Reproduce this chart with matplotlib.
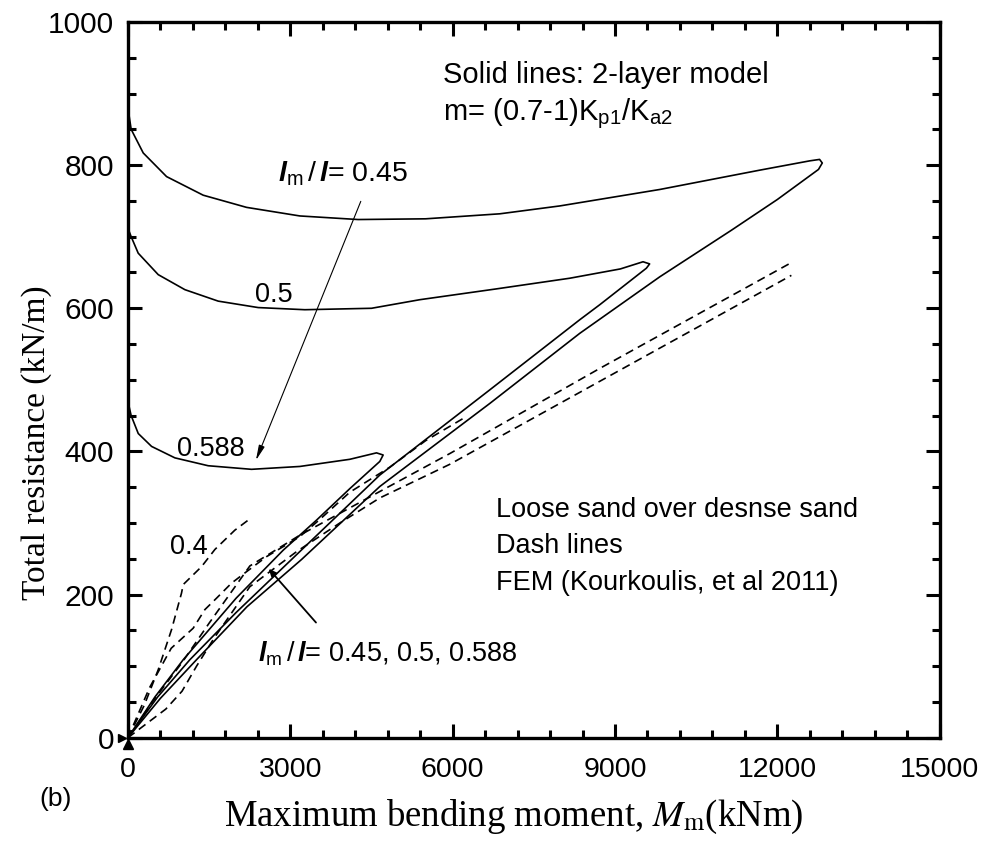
import matplotlib
matplotlib.use("Agg")
import matplotlib.pyplot as plt
from matplotlib.ticker import MultipleLocator

plt.rcParams['font.family'] = ['Liberation Sans', 'DejaVu Sans']
plt.rcParams['mathtext.fontset'] = 'custom'
plt.rcParams['mathtext.rm'] = 'Liberation Sans'
plt.rcParams['mathtext.it'] = 'Liberation Sans:italic'
plt.rcParams['mathtext.bf'] = 'Liberation Sans:bold'
plt.rcParams['mathtext.bfit'] = 'Liberation Sans:italic:bold'

# 2-layer model curves (moment kNm, resistance kN/m), upper branch -> tip -> lower branch
m_045 = [0, 60, 283, 714, 1391, 2192, 3177, 4254, 5500, 6872, 7980, 9828, 11675, 12599, 12780, 12830,
         12760, 12000, 11150, 9828, 8349, 6686, 4654, 3208, 2200, 1268, 600, 0]
r_045 = [880, 850, 817, 784, 758, 741, 729, 724, 725, 732, 743, 766, 793, 806, 808, 803,
         794, 752, 709, 644, 565, 467, 351, 249, 183, 109, 55, 0]

m_050 = [0, 60, 190, 560, 1053, 1668, 2407, 3269, 4501, 5394, 6800, 8165, 9100, 9518, 9640,
         9580, 8719, 8349, 6686, 4654, 3023, 2000, 1145, 550, 0]
r_050 = [712, 700, 677, 647, 626, 610, 601, 598, 600, 612, 627, 642, 655, 665, 662,
         656, 605, 584, 486, 367, 249, 175, 109, 57, 0]

m_0588 = [0, 60, 191, 437, 868, 1483, 2284, 3177, 4100, 4593, 4716, 4654, 4100, 3485, 2869, 2000, 1022, 500, 0]
r_0588 = [470, 450, 425, 407, 391, 380, 375, 379, 389, 398, 395, 386, 348, 304, 262, 195, 109, 57, 0]

# FEM results (Kourkoulis et al. 2011)
fem_m_04 = [0, 300, 560, 806, 990, 1022, 1360, 1607, 1976, 2222]
fem_r_04 = [0, 45, 95, 151, 202, 214, 239, 263, 290, 304]

fem_m_b = [0, 400, 800, 1206, 1422, 1638, 1915, 2192, 2562, 3177, 3546, 4100, 4839, 5500, 6193]
fem_r_b = [0, 70, 125, 153, 179, 195, 216, 232, 253, 281, 305, 343, 378, 415, 446]

fem_m_c = [0, 500, 1000, 1500, 2253, 3177, 4654, 5947, 8719, 12215]
fem_r_c = [0, 55, 105, 160, 240, 283, 344, 397, 516, 662]

fem_m_d = [0, 350, 700, 1000, 1268, 1600, 2253, 3116, 3916, 4654, 5947, 8719, 12259]
fem_r_d = [0, 20, 40, 65, 100, 140, 211, 260, 300, 335, 382, 498, 646]

fig = plt.figure(figsize=(9.84, 8.46), dpi=100)
ax = fig.add_axes([0.130, 0.128, 0.825, 0.846])

lw = 1.2
for m, r in [(m_045, r_045), (m_050, r_050), (m_0588, r_0588)]:
    ax.plot(m, r, color='k', lw=lw)
for m, r in [(fem_m_04, fem_r_04), (fem_m_b, fem_r_b), (fem_m_c, fem_r_c), (fem_m_d, fem_r_d)]:
    ax.plot(m, r, color='k', lw=lw, dashes=(5, 3.2))

# small arrowheads sitting on the origin
ax.plot([0], [-9], marker='^', ms=7, color='k', clip_on=False, zorder=5)
ax.plot([-110], [0], marker='>', ms=6, color='k', clip_on=False, zorder=5)

# annotations
fs = 19.5
lratio = r'$\mathbfit{l}_{\rm m}\,/\,\mathbfit{l}$'
ax.text(5818, 915, 'Solid lines: 2-layer model', fontsize=21, va='baseline')
ax.text(5818, 863, r'm= (0.7-1)K$_{\rm p1}$/K$_{\rm a2}$', fontsize=21, va='baseline')
ax.text(2770, 777, lratio + '= 0.45', fontsize=20.5, va='baseline')
ax.text(2346, 609, '0.5', fontsize=fs, va='baseline')
ax.text(899, 393, '0.588', fontsize=fs, va='baseline')
ax.text(776, 256, '0.4', fontsize=fs, va='baseline')
ax.text(2401, 107, lratio + '= 0.45, 0.5, 0.588', fontsize=fs, va='baseline')
ax.text(6810, 309, 'Loose sand over desnse sand', fontsize=fs, va='baseline')
ax.text(6810, 258, 'Dash lines', fontsize=fs, va='baseline')
ax.text(6810, 207, 'FEM (Kourkoulis, et al 2011)', fontsize=fs, va='baseline')

ax.annotate('', xy=(2346, 384), xytext=(4322, 753),
            arrowprops=dict(arrowstyle='-|>,head_width=0.18,head_length=0.9', lw=0.8, color='k'))
ax.annotate('', xy=(2567, 239), xytext=(3509, 158),
            arrowprops=dict(arrowstyle='-|>,head_width=0.2,head_length=0.45', lw=1.3, color='k'))

ax.set_xlim(0, 15000)
ax.set_ylim(0, 1000)
ax.xaxis.set_major_locator(MultipleLocator(3000))
ax.xaxis.set_minor_locator(MultipleLocator(600))
ax.yaxis.set_major_locator(MultipleLocator(200))
ax.yaxis.set_minor_locator(MultipleLocator(50))
ax.tick_params(which='both', direction='in', top=True, right=True, width=2.2)
ax.tick_params(which='major', length=10)
ax.tick_params(which='minor', length=6)
ax.tick_params(axis='x', pad=14, labelsize=20.5)
ax.tick_params(axis='y', pad=10, labelsize=21.5)
for s in ax.spines.values():
    s.set_linewidth(2.4)

ax.set_xlabel(r'Maximum bending moment, $M_{\rm m}$(kNm)', family='Liberation Serif',
              math_fontfamily='stix', fontsize=26.5)
ax.set_ylabel('Total resistance (kN/m)', family='Liberation Serif', fontsize=24)
ax.xaxis.set_label_coords(0.475, -0.084)
ax.yaxis.set_label_coords(-0.093, 0.412)
fig.text(0.04, 0.047, '(b)', fontsize=19)

fig.savefig('out.png', dpi=100)
